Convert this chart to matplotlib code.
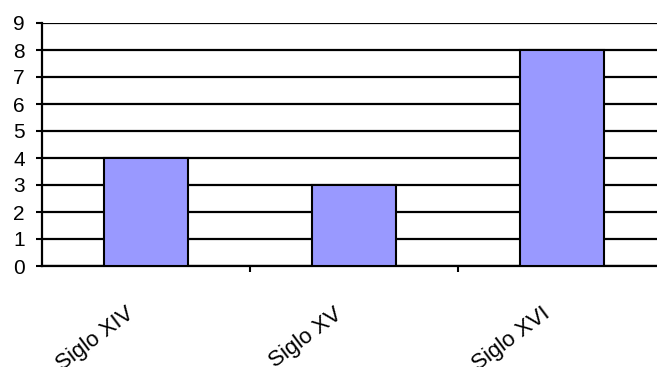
import numpy as np
import matplotlib.pyplot as plt
import matplotlib.transforms as mtransforms

# datos
categorias = ["Siglo XIV", "Siglo XV", "Siglo XVI"]
valores = [4, 3, 8]

plt.rcParams['font.family'] = ['Liberation Sans', 'DejaVu Sans']

fig = plt.figure(figsize=(6.57, 3.67), dpi=100)
ax = fig.add_axes([42 / 657, 101 / 367, 624 / 657, 243 / 367])

x = np.arange(len(categorias))
ax.bar(x, valores, width=0.4, color="#9999FF", edgecolor="black", linewidth=1.5, zorder=3)

ax.set_xlim(-0.5, len(categorias) - 0.5)
ax.set_ylim(0, 9)
ax.set_yticks(range(0, 10))
ax.yaxis.grid(True, color="black", linewidth=1.6, zorder=0)
ax.set_axisbelow(True)

# marcas en los limites de categoria, etiquetas en el centro
ax.set_xticks(x[1:] - 0.5)
ax.set_xticklabels([])
ax.set_xticks(x, minor=True)
ax.set_xticklabels(categorias, minor=True, rotation=37, ha="right", va="center",
                   rotation_mode="anchor", fontsize=16)
ax.tick_params(axis="x", which="minor", length=0, pad=33)
ax.tick_params(axis="x", which="major", length=4.5, width=1.5, direction="out")
ax.tick_params(axis="y", length=4.5, width=1.5, direction="out", labelsize=15, pad=8)

offset = mtransforms.ScaledTranslation(-0.14, 0, fig.dpi_scale_trans)
for lbl in ax.get_xticklabels(minor=True):
    lbl.set_transform(lbl.get_transform() + offset)

for s in ["top", "right"]:
    ax.spines[s].set_visible(False)
ax.spines["left"].set_linewidth(1.6)
ax.spines["bottom"].set_linewidth(1.6)

fig.savefig("out.png", dpi=100)
